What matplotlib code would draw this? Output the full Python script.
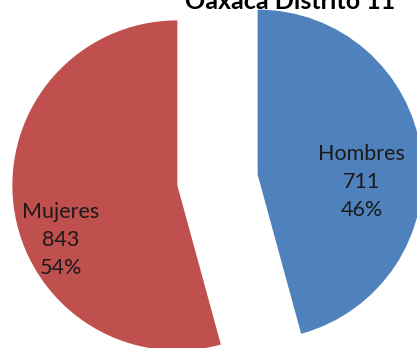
import matplotlib
matplotlib.use("Agg")
import matplotlib.pyplot as plt

# Distrito 11 population by sex
categories = ["Hombres", "Mujeres"]
values = [711, 843]
colors = ["#4F81BD", "#C0504D"]
title = "Oaxaca Distrito 11"

W, H = 417, 348
fig = plt.figure(figsize=(W / 100, H / 100), dpi=100)
ax = fig.add_axes([0, 0, 1, 1])

total = sum(values)
# explode is in data units here (pixels), both slices pulled apart
wedges, _ = ax.pie(values, colors=colors, startangle=90, counterclock=False,
                   explode=[40.5, 40.5], radius=165, center=(217.5, 168),
                   wedgeprops=dict(linewidth=0))
ax.set_xlim(0, W)
ax.set_ylim(0, H)
ax.set_aspect("equal")
ax.axis("off")

# data labels: name, value, percentage
label_pos = [(361.5, 166), (61, 108)]
for (x, y), name, v in zip(label_pos, categories, values):
    ax.text(x, y, f"{name}\n{v}\n{round(100 * v / total)}%", ha="center", va="center",
            fontsize=15.5, family="Lato", color="#1a1a1a", linespacing=1.52)

ax.text(290, 339, title, ha="center", va="baseline", fontsize=18,
        fontweight="bold", family="Lato", color="black")

fig.savefig("out.png", dpi=100)
